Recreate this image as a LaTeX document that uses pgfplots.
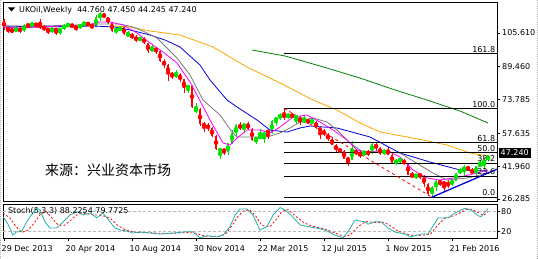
\documentclass[border=0pt]{standalone}
\usepackage{fontspec}
\setmainfont{DejaVu Sans}
\newfontfamily\cjk{Noto Sans CJK SC}
\usepackage{pgfplots}
\usepackage{pgfplotstable}
\pgfplotsset{compat=1.18}

\definecolor{bull}{RGB}{0,225,0}
\definecolor{bear}{RGB}{255,0,0}
\definecolor{maA}{RGB}{255,0,255}
\definecolor{maB}{RGB}{120,120,120}
\definecolor{maC}{RGB}{0,0,225}
\definecolor{maD}{RGB}{255,165,0}
\definecolor{maE}{RGB}{0,128,0}
\definecolor{stk}{RGB}{32,178,170}

\pgfplotstableread{
x o h l c
3 106.5 108.6 105.9 107.9
5 106.4 109.8 105.9 109.6
7 109.1 110.8 108.6 110.0
12 106.9 108.3 105.6 107.6
14 106.7 107.9 104.8 107.5
15 107.5 110.0 107.1 109.5
16 109.0 110.6 108.4 109.6
19 107.9 110.1 107.6 109.8
20 109.8 110.8 108.9 110.5
23 108.6 114.0 108.3 113.4
24 113.4 115.7 111.5 114.8
28 106.7 108.5 104.9 107.2
29 107.2 108.6 106.4 108.4
31 104.6 106.5 103.8 105.0
34 102.3 103.9 101.7 103.2
37 97.1 99.8 96.8 98.4
43 85.2 87.7 84.3 85.9
46 79.4 80.8 77.0 80.4
48 68.3 72.0 67.5 69.1
54 49.3 50.6 45.2 50.2
56 48.8 53.2 47.4 53.0
57 53.0 59.1 52.6 57.8
58 57.8 61.9 55.9 61.5
60 60.2 62.8 57.6 62.6
63 54.7 56.1 52.5 55.3
64 55.3 59.7 54.9 56.4
65 56.4 58.4 53.2 57.9
67 57.9 64.0 57.5 63.5
68 63.5 65.6 61.4 65.3
69 65.3 67.3 64.0 66.5
71 65.4 67.5 64.3 66.8
73 65.4 66.5 61.9 65.6
75 63.3 66.2 62.5 63.9
77 63.0 64.8 62.3 63.3
87 45.1 54.1 45.0 49.6
90 47.5 49.8 46.9 48.6
92 48.1 53.6 48.0 52.7
95 48.0 50.4 47.2 49.6
98 43.6 45.2 42.7 44.7
99 44.7 46.4 43.5 44.9
103 36.9 38.3 36.0 38.1
107 28.9 32.4 27.1 32.2
108 32.2 35.8 30.0 34.7
112 33.0 35.9 32.6 35.1
113 35.1 38.9 35.0 38.7
114 38.7 41.1 38.1 40.4
115 40.4 42.5 37.5 41.2
118 38.7 42.2 37.0 41.9
119 41.9 44.7 41.6 43.1
120 43.1 45.9 40.1 45.1
121 44.76 47.45 44.245 47.24
}\bulltab

\pgfplotstableread{
x o h l c
0 111.9 112.3 107.2 107.8
1 107.9 108.4 105.8 107.3
2 107.3 107.9 105.4 106.5
4 107.9 108.4 105.8 106.4
6 109.6 110.0 107.9 109.1
8 110.0 110.5 108.5 109.1
9 109.1 112.4 107.6 108.8
10 108.8 109.4 106.5 107.4
11 107.4 107.9 105.2 106.9
13 107.6 108.0 104.5 106.7
17 109.6 110.4 107.8 108.6
18 108.6 109.2 106.8 107.9
21 110.5 110.9 108.8 109.4
22 109.4 109.6 107.8 108.6
25 114.8 115.1 112.6 113.3
26 113.3 113.4 110.1 110.6
27 110.6 110.9 106.1 106.7
30 108.4 108.9 104.5 105.0
32 105.0 105.6 102.6 103.5
33 103.5 104.6 101.2 102.3
35 103.2 103.5 100.3 100.8
36 100.8 101.0 96.2 97.1
38 98.4 98.9 95.7 97.0
39 97.0 97.4 91.6 92.3
40 92.3 93.0 89.1 90.2
41 90.2 90.8 82.6 86.2
42 86.2 87.0 83.6 85.2
44 85.9 86.3 82.1 83.4
45 83.4 83.7 77.0 79.4
47 80.4 80.7 69.8 70.2
49 69.1 69.8 61.0 61.9
50 61.9 63.0 58.5 61.4
51 61.4 62.6 59.0 60.2
52 60.2 60.5 55.9 56.4
53 56.4 57.0 49.7 50.1
55 50.2 50.8 47.2 48.8
59 61.5 63.0 59.1 60.2
61 62.6 62.9 59.2 59.7
62 59.7 60.2 53.9 54.7
66 58.9 59.0 54.8 57.9
70 66.5 69.6 64.0 65.4
72 66.8 67.2 64.8 65.4
74 65.6 66.0 61.6 63.3
76 63.9 64.6 62.1 63.0
78 63.3 63.5 59.6 60.3
79 60.3 60.5 55.0 58.7
80 58.7 59.8 56.5 57.1
81 57.1 57.6 54.0 55.0
82 55.0 55.2 51.9 52.2
83 52.2 52.6 48.7 49.5
84 49.5 50.6 48.6 49.2
85 49.2 49.9 45.3 45.5
86 45.5 46.5 42.2 45.1
88 49.6 50.0 47.2 48.1
89 48.1 49.1 46.0 47.5
91 48.6 49.5 47.0 48.1
93 52.7 53.4 49.3 50.5
94 50.5 51.2 47.5 48.0
96 49.6 50.9 47.1 47.4
97 47.4 48.0 43.2 43.6
100 44.9 45.3 42.5 43.0
101 43.0 43.4 37.8 37.9
102 37.9 39.4 36.3 36.9
104 38.1 38.9 35.9 37.3
105 37.3 37.7 32.2 33.5
106 33.5 33.8 28.4 28.9
109 34.7 35.5 32.3 34.1
110 34.1 34.7 30.0 33.4
111 33.4 35.6 31.5 33.0
116 41.2 42.2 39.8 40.4
117 40.4 40.9 38.0 38.7
}\beartab

\pgfplotsset{
  wick/.style={only marks, mark=none, forget plot, color=#1, draw=#1,
    error bars/.cd, y dir=both, y explicit, error mark=none,
    error bar style={color=#1, draw=#1, line width=0.9pt}},
  body/.style={only marks, mark=none, forget plot, color=#1, draw=#1,
    error bars/.cd, y dir=both, y explicit, error mark=none,
    error bar style={color=#1, draw=#1, line width=2.8pt}},
}

\begin{document}
\begin{tikzpicture}
\path[use as bounding box] (0pt,0pt) rectangle (538pt,259pt);
\draw[gray!60, densely dotted, line width=1pt] (0.8pt,0pt) -- (0.8pt,259pt);
\draw[gray!60, densely dotted, line width=1pt] (537.2pt,0pt) -- (537.2pt,259pt);

\begin{axis}[
  at={(3pt,57.5pt)}, anchor=south west,
  width=494pt, height=199.5pt, scale only axis,
  xmin=-0.25, xmax=123.25, ymin=25.09, ymax=120.425,
  xtick=\empty,
  ytick={26.285,41.96,57.635,73.785,89.46,105.61},
  yticklabels={26.285,41.960,57.635,73.785,89.460,105.610},
  ytick pos=right, yticklabel pos=right,
  tick align=outside, major tick length=3pt,
  tick style={black, line width=0.6pt},
  /pgf/number format/assume math mode=true,
  yticklabel style={font=\fontsize{8}{9}\selectfont, inner sep=1pt, xshift=1pt},
  axis line style={line width=0.8pt},
  clip=true,
]
% candle wicks
\addplot[wick=bear] table[x=x, y expr={(\thisrow{h}+\thisrow{l})/2}, y error expr={(\thisrow{h}-\thisrow{l})/2}] {\beartab};
\addplot[wick=bull] table[x=x, y expr={(\thisrow{h}+\thisrow{l})/2}, y error expr={(\thisrow{h}-\thisrow{l})/2}] {\bulltab};
% candle bodies
\addplot[body=bear] table[x=x, y expr={(\thisrow{o}+\thisrow{c})/2}, y error expr={(\thisrow{o}-\thisrow{c})/2}] {\beartab};
\addplot[body=bull] table[x=x, y expr={(\thisrow{o}+\thisrow{c})/2}, y error expr={(\thisrow{c}-\thisrow{o})/2}] {\bulltab};

% moving averages
\addplot[maE, line width=0.8pt] coordinates {(62,97.49) (70.25,94.62) (79,89.84) (89,84.10) (97.75,78.37) (105.75,73.59) (114,68.33) (121,62.60)};
\addplot[maD, line width=0.8pt] coordinates {(27.75,108.96) (31.5,108.48) (36.5,106.57) (44,104.65) (52.25,98.92) (60.75,89.36) (69,81.72) (77.25,73.59) (83.25,68.81) (89,62.60) (94,58.30) (102.25,55.43) (110.75,52.09) (116.5,48.26) (121,46.83)};
\addplot[maC, line width=0.8pt] coordinates {(-0.25,108.96) (9,108.48) (22.25,108.96) (27.75,108.48) (31.5,107.04) (36.5,104.65) (40.25,102.26) (44,98.92) (49,90.32) (51.5,83.15) (55.75,73.59) (58.25,70.25) (63.25,64.03) (66.5,59.25) (70.75,58.30) (74,60.21) (76.5,61.17) (83.25,60.21) (91.5,55.91) (99,48.26) (106.5,43.96) (114,40.14) (121,39.66)};
\addplot[maB, line width=0.8pt] coordinates {(-0.25,108.96) (9,108.96) (19,109.43) (24,109.91) (29,109.91) (32.25,108.48) (35.25,106.09) (38.25,103.22) (43.25,93.66) (46.5,85.54) (49.75,73.59) (54,66.42) (57,58.30) (58.25,55.91) (65.75,55.91) (69,57.82) (71.5,60.21) (74.75,64.03) (77.25,64.99) (80.75,63.08) (83.25,59.25) (86.5,53.04) (89.75,48.74) (94,49.22) (99,48.26) (104.75,41.57) (107.25,38.70) (110.75,35.36) (115.75,36.31) (119,37.75) (121.5,39.18)};
\addplot[maA, line width=0.8pt] coordinates {(-0.25,108.48) (4,108.00) (9,108.48) (14,108.96) (19,108.96) (22,109.91) (24,110.87) (26.5,110.87) (29.75,109.43) (33.25,105.61) (36.5,100.83) (39.75,96.53) (43.25,91.27) (46.5,82.19) (48.25,75.98) (51.5,64.03) (54.75,53.04) (56.5,52.09) (58.25,55.43) (60.75,59.25) (64,59.25) (66.5,57.82) (69,60.69) (72.25,65.47) (75.75,66.42) (79,63.08) (82.25,59.25) (85.75,54.48) (88.25,49.70) (90.75,48.74) (94,48.74) (96.5,48.74) (99,46.35) (102.25,40.14) (105.75,36.31) (109,35.36) (114,36.79) (118.25,38.70) (121,40.14)};

% Fibonacci levels
\addplot[black, line width=0.9pt] coordinates {(70,95.87) (123.25,95.87)};
\addplot[black, line width=0.9pt] coordinates {(70,69.6) (123.25,69.6)};
\addplot[black, line width=0.9pt] coordinates {(70,53.37) (123.25,53.37)};
\addplot[black, line width=0.9pt] coordinates {(70,48.35) (123.25,48.35)};
\addplot[black, line width=0.9pt] coordinates {(70,43.34) (123.25,43.34)};
\addplot[black, line width=0.9pt] coordinates {(70,37.13) (123.25,37.13)};
\addplot[black, line width=0.9pt] coordinates {(70,27.1) (123.25,27.1)};
\addplot[bear, line width=0.8pt, dash pattern=on 3pt off 3pt] coordinates {(70,69.6) (107,27.1)};
\addplot[maC, line width=1.3pt] coordinates {(106.9,27.1) (123.25,40.55)};

\node[anchor=south east, inner sep=1pt, font=\fontsize{8}{9}\selectfont] at (axis cs:123.1,95.87) {161.8};
\node[anchor=south east, inner sep=1pt, font=\fontsize{8}{9}\selectfont] at (axis cs:123.1,69.6) {100.0};
\node[anchor=south east, inner sep=1pt, font=\fontsize{8}{9}\selectfont] at (axis cs:123.1,53.37) {61.8};
\node[anchor=south east, inner sep=1pt, font=\fontsize{8}{9}\selectfont] at (axis cs:123.1,48.35) {50.0};
\node[anchor=south east, inner sep=1pt, font=\fontsize{8}{9}\selectfont] at (axis cs:123.1,43.34) {38.2};
\node[anchor=south east, inner sep=1pt, font=\fontsize{8}{9}\selectfont] at (axis cs:123.1,37.13) {23.6};
\node[anchor=south east, inner sep=1pt, font=\fontsize{8}{9}\selectfont] at (axis cs:123.1,27.1) {0.0};
\end{axis}

% title and annotations
\fill (8pt,251.5pt) -- (15pt,251.5pt) -- (11.5pt,247.5pt) -- cycle;
\node[anchor=west, inner sep=0pt, font=\fontsize{8}{9}\selectfont] at (19pt,249pt) {UKOil,Weekly\hspace{5pt}44.760 47.450 44.245 47.240};
\node[anchor=west, inner sep=0pt, font=\cjk\fontsize{14}{16}\selectfont] at (45pt,89pt) {来源：兴业资本市场};
\node[anchor=west, fill=black, text=white, inner xsep=2pt, inner ysep=2pt, font=\fontsize{8}{9}\selectfont] at (498.5pt,106pt) {47.240};

\begin{axis}[
  at={(3pt,20.5pt)}, anchor=south west,
  width=494pt, height=34pt, scale only axis,
  xmin=-0.25, xmax=123.25, ymin=0, ymax=100,
  ytick={20,80}, yticklabels={20,80},
  ytick pos=right, yticklabel pos=right,
  xtick={0,16,32,48,64,80,96,112},
  xticklabels={29 Dec 2013,20 Apr 2014,10 Aug 2014,30 Nov 2014,22 Mar 2015,12 Jul 2015,1 Nov 2015,21 Feb 2016},
  xtick pos=bottom,
  tick align=outside, major tick length=3pt,
  tick style={black, line width=0.6pt},
  /pgf/number format/assume math mode=true,
  xticklabel style={anchor=north west, xshift=-3.5pt, inner sep=1pt, yshift=-3pt, font=\fontsize{8}{9}\selectfont},
  yticklabel style={font=\fontsize{8}{9}\selectfont, inner sep=1pt},
  axis line style={line width=0.8pt},
  clip=true,
]
\addplot[gray!55, line width=0.6pt, dash pattern=on 3pt off 2pt] coordinates {(-0.25,80) (123.25,80)};
\addplot[gray!55, line width=0.6pt, dash pattern=on 3pt off 2pt] coordinates {(-0.25,20) (123.25,20)};
\addplot[bear, line width=0.8pt, dash pattern=on 2pt off 2pt] coordinates {(-0.25,75) (1.5,60) (3,35) (4.5,18) (6,25) (7.5,45) (9,70) (10.5,80) (12,60) (13.5,40) (15,38) (16.5,52) (18,68) (19.5,75) (21,72) (22.5,70) (24,68) (25.5,65) (27,55) (28.5,38) (30,27) (31.5,22) (33,18) (35,17) (37,17) (39.5,15) (42.5,15) (46,18) (48,15) (50,8) (52,6) (54,7) (55.5,15) (57,38) (58.5,65) (60,82) (61.5,84) (63,65) (64.5,38) (66.5,35) (68,55) (69.5,80) (71,85) (72.5,70) (74.5,50) (76.5,38) (78.5,32) (80.5,27) (83,15) (85,6) (86.5,10) (88.5,35) (90.5,50) (92,48) (93.5,47) (95,48) (96.5,38) (98.5,22) (100.5,14) (102.5,8) (104.5,10) (106.5,12) (108.5,40) (110,58) (111.5,63) (113.5,72) (115.5,85) (117,86) (118.5,76) (120,68) (121,79.8)};
\addplot[stk, line width=0.8pt] coordinates {(-0.2,64) (1.1,40) (2.2,10) (3.2,20) (4.4,20) (5.25,40) (6.5,64) (8.2,89) (9,84) (10.25,49) (11.5,31) (13.2,31) (14.8,49) (16.5,69) (18.2,79) (19.8,69) (21.5,75) (23.2,61) (24.75,75) (26.5,49) (27.75,31) (29,25) (30.7,22) (32.25,16) (34,19) (36.5,16) (39,13) (42.25,16) (45.75,20) (47.25,20) (49,2) (50.75,8) (53.25,5) (54.75,10) (56.5,35) (57.75,69) (59,87) (60.75,87) (62.25,69) (64,25) (65.75,35) (67.25,69) (69,91) (70.25,84) (71.75,69) (74,40) (76,35) (78,31) (80.25,25) (82.75,10) (84.75,2) (86,20) (87.75,54) (90.25,49) (91,42) (92.75,49) (94.25,49) (96,31) (97.75,19) (100.25,13) (101.75,5) (104.25,13) (106,13) (108.5,60) (111,61) (112.75,75) (115.25,89) (116.75,84) (118.5,67) (119.25,64) (121,88.2)};
\node[anchor=west, inner sep=0pt, font=\fontsize{8}{9}\selectfont] at (rel axis cs:0.01,0.8) {Stoch(5,3,3) 88.2254 79.7725};
\end{axis}
\end{tikzpicture}
\end{document}
